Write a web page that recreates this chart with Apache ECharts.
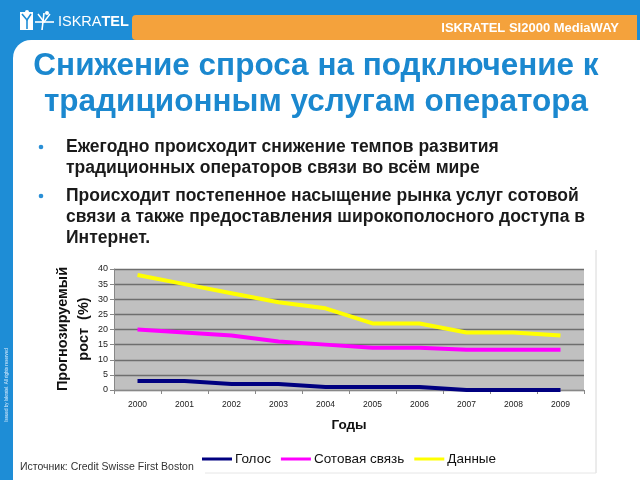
<!DOCTYPE html>
<html><head><meta charset="utf-8">
<script src="https://cdn.jsdelivr.net/npm/echarts@6/dist/echarts.min.js"></script>
<style>html,body{margin:0;padding:0;background:#fff}#c{width:640px;height:480px}</style>
</head><body><div id="c"></div>
<script>
var years = ['2000','2001','2002','2003','2004','2005','2006','2007','2008','2009'];
var voice = [3, 3, 2, 2, 1, 1, 1, 0, 0, 0];
var mobile = [20, 19, 18, 16, 15, 14, 14, 13.3, 13.3, 13.3];
var data = [38, 35, 32, 29, 27, 22, 22, 19, 19, 18];
var seriesNames = ['Голос', 'Сотовая связь', 'Данные'];
var titleLines = ['Снижение спроса на подключение к', 'традиционным услугам оператора'];
var bullets = [
  ['Ежегодно происходит снижение темпов развития', 'традиционных операторов связи во всём мире'],
  ['Происходит постепенное насыщение рынка услуг сотовой', 'связи а также предоставления широкополосного доступа в', 'Интернет.']
];

var chart = echarts.init(document.getElementById('c'), null, {renderer: 'canvas'});
var F = 'Liberation Sans, Arial, sans-serif';
var BLUE = '#1e8dd6';
var g = [];
g.push({type:'rect', z:-10, shape:{x:0,y:0,width:640,height:480}, style:{fill:BLUE}});
g.push({type:'rect', z:-9, shape:{x:13,y:40,width:640,height:460,r:[18,0,0,0]}, style:{fill:'#ffffff'}});
g.push({type:'rect', z:-8, shape:{x:132,y:15,width:505,height:25,r:[4,0,0,4]}, style:{fill:'#f4a23c'}});
g.push({type:'text', style:{text:'ISKRATEL SI2000 MediaWAY', x:619, y:28, font:'bold 13px '+F, fill:'#ffffff', align:'right', verticalAlign:'middle'}});
// logo
g.push({type:'text', style:{text:'{a|ISKRA}{b|TEL}', x:58, y:22, verticalAlign:'middle', rich:{a:{font:'14.5px Liberation Sans Narrow, '+F, fill:'#fff'}, b:{font:'bold 14.5px Liberation Sans Narrow, '+F, fill:'#fff'}}}});
g.push({type:'rect', shape:{x:20,y:12,width:13,height:18}, style:{fill:'#ffffff'}});
g.push({type:'polyline', shape:{points:[[22,14],[27,20],[31,14]]}, style:{stroke:BLUE,lineWidth:1.6,fill:null}});
g.push({type:'polyline', shape:{points:[[27,20],[27,29]]}, style:{stroke:BLUE,lineWidth:1.6,fill:null}});
g.push({type:'polyline', shape:{points:[[35,22],[54,22]]}, style:{stroke:'#fff',lineWidth:1.6,fill:null}});
g.push({type:'polyline', shape:{points:[[44,13],[42,30]]}, style:{stroke:'#fff',lineWidth:1.6,fill:null}});
g.push({type:'polyline', shape:{points:[[38,14],[44,22],[50,14]]}, style:{stroke:'#fff',lineWidth:1.4,fill:null}});
g.push({type:'circle', shape:{cx:47,cy:13,r:2}, style:{fill:'#fff'}});
g.push({type:'circle', shape:{cx:27,cy:12,r:2}, style:{fill:'#fff'}});
// left strip text
g.push({type:'text', rotation:Math.PI/2, x:7, y:385, style:{text:'Issued by Iskratel. All rights reserved', x:0, y:0, font:'4.5px '+F, fill:'#dfefff', align:'center', verticalAlign:'middle'}});
// title
titleLines.forEach(function(t,i){
  g.push({type:'text', style:{text:t, x:316, y:66+i*36, font:'bold 31.5px '+F, fill:'#1b88cf', align:'center', verticalAlign:'middle'}});
});
// bullets
var by = 147;
bullets.forEach(function(b){
  g.push({type:'circle', shape:{cx:41,cy:by,r:2.3}, style:{fill:'#2a8fd6'}});
  b.forEach(function(line){
    g.push({type:'text', style:{text:line, x:66, y:by, font:'bold 17.5px '+F, fill:'#1a1a1a', align:'left', verticalAlign:'middle'}});
    by += 21;
  });
  by += 7;
});
// chart box lines
g.push({type:'line', shape:{x1:596,y1:250,x2:596,y2:473}, style:{stroke:'#d8d8d8',lineWidth:1}});
g.push({type:'line', shape:{x1:205,y1:473,x2:596,y2:473}, style:{stroke:'#e6e6e6',lineWidth:1}});
// y axis name
g.push({type:'text', rotation:Math.PI/2, x:73, y:329, style:{text:'Прогнозируемый\nрост  (%)', x:0, y:0, font:'bold 14.5px '+F, fill:'#111', align:'center', verticalAlign:'middle', lineHeight:21}});
g.push({type:'text', style:{text:'Годы', x:349, y:425, font:'bold 13.5px '+F, fill:'#111', align:'center', verticalAlign:'middle'}});
g.push({type:'text', style:{text:'Источник: Credit Swisse First Boston', x:20, y:467, font:'10.5px '+F, fill:'#333', align:'left', verticalAlign:'middle'}});

chart.setOption({
  animation:false,
  backgroundColor:'transparent',
  graphic:{elements:g},
  grid:{left:114, right:56, top:269, bottom:90, show:true, backgroundColor:'#c0c0c0', borderWidth:0},
  legend:{left:197, top:447, itemWidth:30, itemHeight:3, icon:'rect', itemGap:10,
    textStyle:{fontFamily:F, fontSize:13.5, color:'#111', padding:[0,0,0,-2]},
    data:seriesNames},
  xAxis:{type:'category', data:years, boundaryGap:true,
    axisLine:{lineStyle:{color:'#888'}}, axisTick:{show:true, length:4, lineStyle:{color:'#888'}},
    axisLabel:{fontFamily:F, fontSize:8.5, color:'#222', margin:10}},
  yAxis:{type:'value', min:0, max:40, interval:5,
    axisLine:{show:true, lineStyle:{color:'#888'}}, axisTick:{show:true, length:4, lineStyle:{color:'#888'}},
    axisLabel:{fontFamily:F, fontSize:9, color:'#222', margin:6},
    splitLine:{lineStyle:{color:'#6e6e6e', width:1.3}}},
  series:[
    {name:seriesNames[0], type:'line', data:voice, symbol:'none', color:'#000080', lineStyle:{width:4, color:'#000080'}},
    {name:seriesNames[1], type:'line', data:mobile, symbol:'none', color:'#ff00ff', lineStyle:{width:4, color:'#ff00ff'}},
    {name:seriesNames[2], type:'line', data:data, symbol:'none', color:'#ffff00', lineStyle:{width:4, color:'#ffff00'}}
  ]
});
</script></body></html>
